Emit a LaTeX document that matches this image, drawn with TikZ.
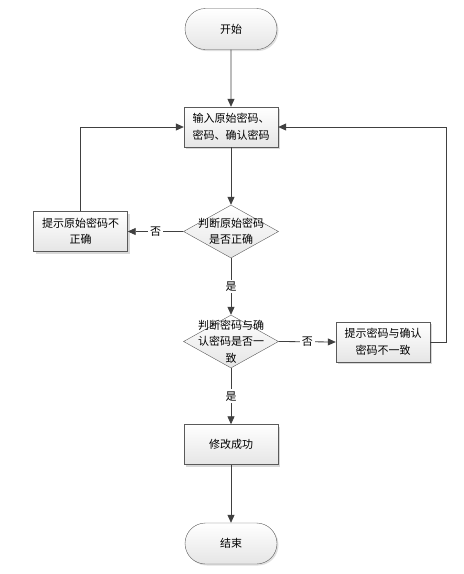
\documentclass[tikz,border=0pt]{standalone}
\usepackage{fontspec}
\setmainfont{Noto Sans CJK SC}
\usetikzlibrary{shapes.geometric,shapes.misc,shadows,arrows.meta}
\definecolor{linegray}{HTML}{404040}
\definecolor{boxgray}{HTML}{5A5A5A}
\begin{document}
\begin{tikzpicture}[x=1pt, y=-1pt, >={Triangle[width=7pt,length=8pt]},
    font=\fontsize{11}{16.5}\selectfont,
    every node/.style={inner sep=1pt},
    flowline/.style={draw=linegray, line width=0.8pt},
    terminal/.style={draw=boxgray, rounded rectangle, minimum width=94pt,
        minimum height=41pt, top color=white, bottom color=black!10,
        drop shadow={shadow xshift=1.5pt, shadow yshift=-1.5pt, fill=black!25}},
    process/.style={draw=boxgray, rectangle, minimum width=94pt,
        minimum height=40pt, align=center, top color=white, bottom color=black!10,
        drop shadow={shadow xshift=2pt, shadow yshift=-2pt, fill=black!30}},
    decision/.style={draw=boxgray, diamond, minimum width=95pt,
        minimum height=53pt, inner sep=0pt, top color=white, bottom color=black!10},
    dtext/.style={align=center},
    lbl/.style={fill=white, inner sep=2pt}]
\useasboundingbox (0,0) rectangle (464,574);

% nodes
\node[terminal] (start) at (231,29) {开始};
\node[process] (input) at (231,127) {输入原始密码、\\密码、确认密码};
\node[decision] (chk1) at (231,231.5) {};
\node[dtext] (chk1txt) at (chk1) {判断原始密码\\是否正确};
\node[process] (err1) at (80.5,231.5) {提示原始密码不\\正确};
\node[decision] (chk2) at (231,341.5) {};
\node[dtext] (chk2txt) at (chk2) {判断密码与确\\认密码是否一\\致};
\node[process] (err2) at (383,342) {提示密码与确认\\密码不一致};
\node[process] (ok) at (231,444.5) {修改成功};
\node[terminal] (end) at (231,543.5) {结束};

% connectors
\draw[flowline, ->] (start) -- (input);
\draw[flowline, ->] (input) -- (chk1);
\draw[flowline, ->] (chk1.west) -- node[lbl] (no1) {否} (err1.east);
\draw[flowline, ->] (chk1.south) -- node[lbl] (yes1) {是} (chk2.north);
\draw[flowline, ->] (chk2.east) -- node[lbl] (no2) {否} (err2.west);
\draw[flowline, ->] (chk2.south) -- node[lbl] (yes2) {是} (ok.north);
\draw[flowline, ->] (ok) -- (end);
\draw[flowline, ->] (err1.north) |- (input.west);
\draw[flowline, ->] (err2.east) -- ++(16,0) |- (input.east);
\end{tikzpicture}
\end{document}
